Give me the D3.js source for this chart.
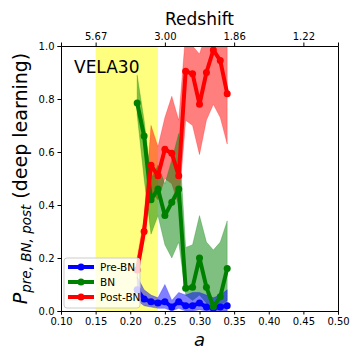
<!DOCTYPE html>
<html lang="en">
<head>
    <meta charset="UTF-8">
    <title>VELA30</title>
    <style>
        body { margin: 0; background: #fff; }
        text { font-family: "DejaVu Sans", sans-serif; }
        .tick text { font-size: 10px; fill: #000; }
        .tick line, .domain { stroke: #000; }
    </style>
</head>
<body>
    <script src="https://d3js.org/d3.v7.min.js"></script>
    <script>
        var width = 360;
        var height = 360;

        // scale factor a for every point
        var aVals = [0.21, 0.22, 0.23, 0.24, 0.25, 0.26, 0.27, 0.28, 0.29, 0.30, 0.31, 0.32, 0.33, 0.34];

        var preBN    = [0.08, 0.045, 0.035, 0.03, 0.035, 0.015, 0.035, 0.02, 0.02, 0.03, 0.015, 0.01, 0.015, 0.02];
        var preLow   = [0.04, 0.02, 0.015, 0.01, 0.01, 0.0, 0.01, 0.0, 0.0, 0.005, 0.0, 0.0, 0.0, 0.0];
        var preHigh  = [0.13, 0.08, 0.06, 0.05, 0.10, 0.04, 0.07, 0.06, 0.07, 0.07, 0.06, 0.05, 0.06, 0.08];

        var BN       = [0.785, 0.66, 0.42, 0.46, 0.36, 0.41, 0.46, 0.086, 0.09, 0.20, 0.09, 0.016, 0.054, 0.16];
        var bnLow    = [0.74, 0.50, 0.29, 0.36, 0.25, 0.20, 0.26, 0.06, 0.04, 0.06, 0.03, 0.0, 0.02, 0.04];
        var bnHigh   = [0.89, 0.72, 0.50, 0.55, 0.48, 0.57, 0.67, 0.24, 0.25, 0.36, 0.26, 0.23, 0.26, 0.34];

        var postBN   = [0.155, 0.30, 0.55, 0.51, 0.61, 0.595, 0.51, 0.905, 0.895, 0.78, 0.90, 0.985, 0.945, 0.82];
        var postLow  = [0.12, 0.27, 0.45, 0.42, 0.50, 0.48, 0.40, 0.72, 0.70, 0.59, 0.72, 0.78, 0.73, 0.63];
        var postHigh = [0.20, 0.35, 0.70, 0.62, 0.73, 0.81, 0.72, 1.05, 1.00, 0.97, 1.05, 1.08, 1.05, 1.02];

        var xTicks = [0.10, 0.15, 0.20, 0.25, 0.30, 0.35, 0.40, 0.45, 0.50];
        var yTicks = [0.0, 0.2, 0.4, 0.6, 0.8, 1.0];
        var topTicks = [0.15, 0.25, 0.35, 0.45];
        var topLabels = ["5.67", "3.00", "1.86", "1.22"];
        var bnWindow = [0.15, 0.24];

        var margin = { left: 61, right: 22, top: 46, bottom: 49 };

        var svg = d3.select('body').append('svg')
            .attr('width', width)
            .attr('height', height);

        var x = d3.scaleLinear().domain([0.1, 0.5]).range([margin.left, width - margin.right]);
        var y = d3.scaleLinear().domain([0, 1]).range([height - margin.bottom, margin.top]);

        svg.append('clipPath').attr('id', 'plotclip')
            .append('rect')
            .attr('x', x(0.1)).attr('y', y(1))
            .attr('width', x(0.5) - x(0.1)).attr('height', y(0) - y(1));

        var plot = svg.append('g').attr('clip-path', 'url(#plotclip)');

        // yellow span
        plot.append('rect')
            .attr('x', x(bnWindow[0]))
            .attr('y', y(1))
            .attr('width', x(bnWindow[1]) - x(bnWindow[0]))
            .attr('height', y(0) - y(1))
            .attr('fill', 'yellow')
            .attr('opacity', 0.5);

        var series = [
            { name: 'Pre-BN', color: '#0000ff', mid: preBN, lo: preLow, hi: preHigh },
            { name: 'BN', color: '#008000', mid: BN, lo: bnLow, hi: bnHigh },
            { name: 'Post-BN', color: '#ff0000', mid: postBN, lo: postLow, hi: postHigh }
        ];

        var area = d3.area()
            .x(function(d) { return x(d.a); })
            .y0(function(d) { return y(d.lo); })
            .y1(function(d) { return y(d.hi); });

        var line = d3.line()
            .x(function(d) { return x(d.a); })
            .y(function(d) { return y(d.v); });

        series.forEach(function(s) {
            s.pts = aVals.map(function(a, i) {
                return { a: a, v: s.mid[i], lo: s.lo[i], hi: s.hi[i] };
            });
        });

        // bands: red first, then green, then blue
        [series[2], series[1], series[0]].forEach(function(s) {
            plot.append('path')
                .datum(s.pts)
                .attr('d', area)
                .attr('fill', s.color)
                .attr('fill-opacity', 0.5)
                .attr('stroke', s.color)
                .attr('stroke-opacity', 0.5)
                .attr('stroke-width', 0.5);
        });

        series.forEach(function(s) {
            plot.append('path')
                .datum(s.pts)
                .attr('d', line)
                .attr('fill', 'none')
                .attr('stroke', s.color)
                .attr('stroke-width', 4)
                .attr('stroke-linejoin', 'round');
            plot.selectAll(null)
                .data(s.pts)
                .enter().append('circle')
                .attr('cx', function(d) { return x(d.a); })
                .attr('cy', function(d) { return y(d.v); })
                .attr('r', 3.5)
                .attr('fill', s.color);
        });

        // axes
        svg.append('g')
            .attr('transform', 'translate(0,' + y(0) + ')')
            .call(d3.axisBottom(x).tickValues(xTicks).tickFormat(d3.format('.2f')).tickSize(3.5).tickPadding(3));

        svg.append('g')
            .attr('transform', 'translate(' + x(0.1) + ',0)')
            .call(d3.axisLeft(y).tickValues(yTicks).tickFormat(d3.format('.1f')).tickSize(3.5).tickPadding(3));

        svg.append('g')
            .attr('transform', 'translate(0,' + y(1) + ')')
            .call(d3.axisTop(x).tickValues(topTicks).tickFormat(function(d, i) { return topLabels[i]; }).tickSize(3.5).tickPadding(3));

        svg.append('g')
            .attr('transform', 'translate(' + x(0.5) + ',0)')
            .call(d3.axisRight(y).tickValues([]).tickSize(0));

        // labels
        svg.append('text')
            .attr('x', (x(0.1) + x(0.5)) / 2)
            .attr('y', 25)
            .attr('text-anchor', 'middle')
            .style('font-size', '17px')
            .text('Redshift');

        svg.append('text')
            .attr('x', (x(0.1) + x(0.5)) / 2)
            .attr('y', 346)
            .attr('text-anchor', 'middle')
            .style('font-size', '18px')
            .style('font-style', 'italic')
            .text('a');

        var ylab = svg.append('text')
            .attr('transform', 'translate(27,' + ((y(0) + y(1)) / 2) + ') rotate(-90)')
            .attr('text-anchor', 'middle')
            .style('font-size', '19px');
        ylab.append('tspan').style('font-style', 'italic').text('P');
        ylab.append('tspan').style('font-style', 'italic').style('font-size', '13.5px')
            .attr('dy', 4).text('pre, BN, post');
        ylab.append('tspan').attr('dy', -4).text(' (deep learning)');

        svg.append('text')
            .attr('x', 74)
            .attr('y', 73)
            .style('font-size', '17px')
            .text('VELA30');

        // legend
        var leg = svg.append('g').attr('transform', 'translate(64,258)');
        leg.append('rect')
            .attr('width', 76).attr('height', 50)
            .attr('rx', 3)
            .attr('fill', '#fff').attr('fill-opacity', 0.8)
            .attr('stroke', '#ccc').attr('stroke-width', 1);
        series.forEach(function(s, i) {
            var g = leg.append('g').attr('transform', 'translate(0,' + (9 + i * 15) + ')');
            g.append('line').attr('x1', 4).attr('x2', 30)
                .attr('stroke', s.color).attr('stroke-width', 4);
            g.append('circle').attr('cx', 17).attr('r', 3.5).attr('fill', s.color);
            g.append('text').attr('x', 36).attr('y', 4)
                .style('font-size', '10.5px').text(s.name);
        });
    </script>
</body>
</html>
